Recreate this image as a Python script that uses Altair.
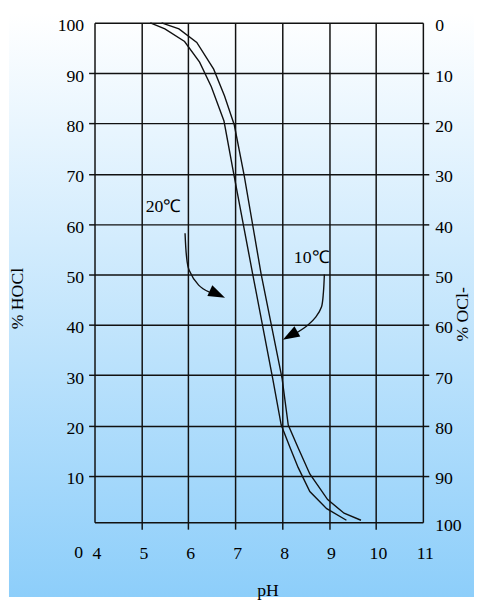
import altair as alt
import pandas as pd

# 20°C curve (left)
ph_20 = [5.19, 5.50, 5.92, 6.24, 6.49, 6.76, 6.95, 7.37, 7.80, 7.98, 8.17, 8.34, 8.59, 8.95, 9.37]
hocl_20 = [100, 98.8, 96.3, 92.2, 87.3, 80.5, 70.9, 50.2, 29.3, 20.1, 15.6, 11.7, 6.9, 3.5, 1.2]
# 10°C curve (right)
ph_10 = [5.43, 5.80, 6.18, 6.54, 6.77, 6.98, 7.19, 7.55, 8.00, 8.13, 8.34, 8.59, 8.97, 9.32, 9.68]
hocl_10 = [100, 98.8, 96.1, 90.8, 85.5, 79.7, 69.7, 50.2, 29.3, 20.1, 15.6, 10.4, 5.3, 2.6, 1.2]

x_ticks = [4, 5, 6, 7, 8, 9, 10, 11]
y_ticks = [0.8, 10, 20, 30, 40, 50, 60, 70, 80, 90, 100]

# annotations
label_text = ["20℃", "10℃"]
label_ph = [5.47, 8.63]
label_v = [63.5, 53.3]

arrow1_ph = [5.93, 5.96, 6.02, 6.22, 6.45]
arrow1_v = [58.2, 53.7, 50.8, 47.9, 46.5]
arrow2_ph = [8.90, 8.88, 8.84, 8.72, 8.55, 8.32]
arrow2_v = [50.0, 46.5, 43.6, 41.6, 40.0, 38.5]
head_ph = [6.62, 8.17]
head_v = [46.1, 37.9]
head_angle = [25, 150]
HEAD_PATH = "M1,0L-1,-0.7L-1,0.7Z"

FONT = "Liberation Serif"
FS = 18
INK = "#111111"

c20 = pd.DataFrame({"ph": ph_20, "v": hocl_20, "o": list(range(len(ph_20)))})
c10 = pd.DataFrame({"ph": ph_10, "v": hocl_10, "o": list(range(len(ph_10)))})
arrows = pd.DataFrame({
    "ph": arrow1_ph + arrow2_ph,
    "v": arrow1_v + arrow2_v,
    "a": ["a1"] * len(arrow1_ph) + ["a2"] * len(arrow2_ph),
    "o": list(range(len(arrow1_ph))) + list(range(len(arrow2_ph))),
})
heads = pd.DataFrame({"ph": head_ph, "v": head_v, "angle": head_angle})
labels = pd.DataFrame({"ph": label_ph, "v": label_v, "t": label_text})
zero = pd.DataFrame({"ph": [4], "v": [0.8], "t": ["0"]})

xs = alt.Scale(domain=[4, 11], nice=False, zero=False)
ys = alt.Scale(domain=[0.8, 100], nice=False, zero=False)

edge_test = "datum.value < 5 || datum.value > 95"
x_edge = "datum.value < 4.5 || datum.value > 10.5"

x_axis = alt.Axis(
    values=x_ticks, grid=True, gridColor=INK, gridWidth=1.5, gridOpacity=1,
    domain=False, tickSize=7, tickColor=INK, tickWidth=1.5,
    tickOpacity=alt.ConditionalAxisNumber(condition={"test": x_edge, "value": 0}, value=1),
    labelFont=FONT, labelFontSize=FS, labelColor="#000", labelPadding=25,
    labelOffset=2, labelBaseline="middle", labelFlush=False,
    title="pH", titleFont=FONT, titleFontSize=FS, titleFontWeight="normal",
    titleColor="#000", titleX=176, titleY=70, titleBaseline="middle", titleAlign="center",
    zindex=1,
)
y_left = alt.Axis(
    values=y_ticks, grid=True, gridColor=INK, gridWidth=1.5, gridOpacity=1,
    domain=False, tickSize=6, tickColor=INK, tickWidth=1.5,
    tickOpacity=alt.ConditionalAxisNumber(condition={"test": edge_test, "value": 0}, value=1),
    labelExpr="datum.value < 5 ? '' : datum.label",
    labelFont=FONT, labelFontSize=FS, labelColor="#000", labelPadding=5,
    labelBaseline="middle", labelOffset=3,
    title="% HOCl", titleFont=FONT, titleFontSize=FS, titleFontWeight="normal",
    titleColor="#000", titleAngle=270, titleX=-78, titleY=280,
    titleBaseline="middle", titleAlign="center",
    zindex=1,
)
y_right = alt.Axis(
    orient="right", values=y_ticks, grid=False, domain=False,
    tickSize=6, tickColor=INK, tickWidth=1.5,
    tickOpacity=alt.ConditionalAxisNumber(condition={"test": edge_test, "value": 0}, value=1),
    labelExpr="datum.value < 5 ? '100' : (datum.value > 95 ? '0' : format(100 - datum.value, 'd'))",
    labelFont=FONT, labelFontSize=FS, labelColor="#000", labelPadding=6,
    labelBaseline="middle", labelOffset=3,
    title="% OCl-", titleFont=FONT, titleFontSize=FS, titleFontWeight="normal",
    titleColor="#000", titleAngle=270, titleX=40, titleY=296,
    titleBaseline="middle", titleAlign="center",
    zindex=1,
)

X = alt.X("ph:Q", scale=xs, axis=x_axis)

bg = alt.Chart(alt.Data(values=[{"k": 1}])).mark_rect(
    fill=alt.LinearGradient(
        gradient="linear",
        stops=[alt.GradientStop(color="#ffffff", offset=0),
               alt.GradientStop(color="#8dcefa", offset=1)],
        x1=0, x2=0, y1=0, y2=1,
    )
).encode(
    x=alt.value(-87), x2=alt.value(386), y=alt.value(-10), y2=alt.value(584)
)

line20 = alt.Chart(c20).mark_line(color=INK, strokeWidth=1.4).encode(
    x=X,
    y=alt.Y("v:Q", scale=ys, axis=y_left),
    order="o:Q",
)
line10 = alt.Chart(c10).mark_line(color=INK, strokeWidth=1.4).encode(
    x=X,
    y=alt.Y("v:Q", scale=ys, axis=y_right),
    order="o:Q",
)
arrow_lines = alt.Chart(arrows).mark_line(color=INK, strokeWidth=1.4, interpolate="cardinal").encode(
    x=X,
    y=alt.Y("v:Q", scale=ys, axis=None),
    detail="a:N",
    order="o:Q",
)
arrow_heads = alt.Chart(heads).mark_point(filled=True, color="#000", opacity=1, size=290,
                                          strokeWidth=0, shape=HEAD_PATH).encode(
    x=X,
    y=alt.Y("v:Q", scale=ys, axis=None),
    angle=alt.Angle("angle:Q", scale=None),
)
ann = alt.Chart(labels).mark_text(font=FONT, fontSize=FS, color="#000", baseline="middle", align="center").encode(
    x=X,
    y=alt.Y("v:Q", scale=ys, axis=None),
    text="t:N",
)
zero_lbl = alt.Chart(zero).mark_text(font=FONT, fontSize=FS, color="#000", baseline="middle", align="center",
                                     dx=-16, dy=31).encode(
    x=X,
    y=alt.Y("v:Q", scale=ys, axis=None),
    text="t:N",
)

chart = alt.layer(bg, line20, line10, arrow_lines, arrow_heads, ann, zero_lbl).resolve_axis(
    y="independent"
).properties(
    width=334, height=508,
    padding={"left": 88, "top": 10, "right": 52, "bottom": 76},
    autosize=alt.AutoSizeParams(type="none"),
).configure_view(stroke=None).configure(background="#ffffff")

chart.save("out.html", embed_options={"renderer": "svg", "actions": False})
